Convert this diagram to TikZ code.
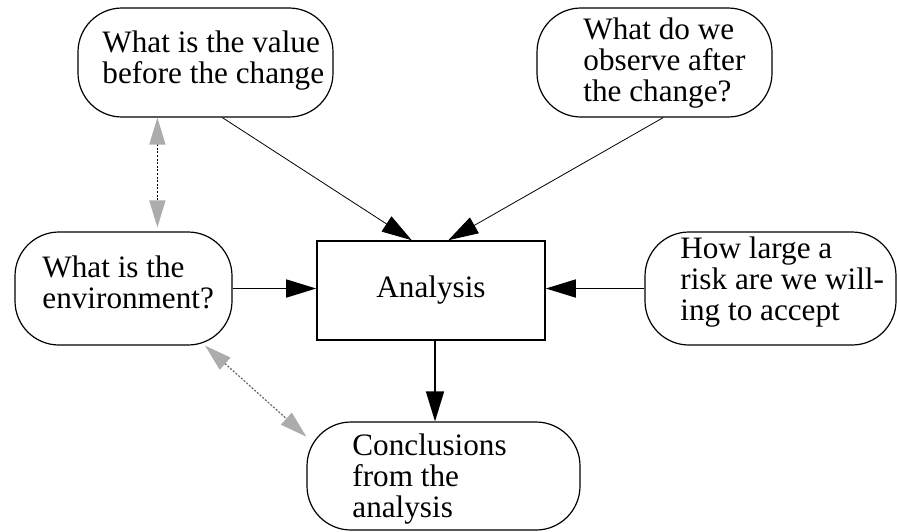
\documentclass[tikz,border=0pt]{standalone}
\usepackage{fontspec}
\setmainfont{Liberation Serif}
\usetikzlibrary{arrows.meta}

\begin{document}
\begin{tikzpicture}[x=0.5pt, y=-0.5pt,
    bubble/.style={draw, rounded corners=22pt, line width=0.6pt},
    txt/.style={align=left, anchor=base west, inner sep=0pt, font=\fontsize{15.6}{15.5}\selectfont},
    flow/.style={-{Triangle[length=15pt, width=9pt]}},
    link/.style={dash pattern=on 1pt off 0.8pt,
      {Triangle[length=13.5pt, width=8pt, color=gray!65]}-{Triangle[length=13.5pt, width=8pt, color=gray!65]}}]
  \useasboundingbox (0,0) rectangle (897,531);
  % Questions (text placed by the baseline of its last line)
  \node[bubble, minimum width=127.5pt, minimum height=54.5pt] (before) at (205.5,62.5) {};
  \node[txt] (before text) at (102,83) {What is the value\\before the change};
  \node[bubble, minimum width=117.5pt, minimum height=54.5pt] (after) at (654.5,62.5) {};
  \node[txt] (after text) at (583,101) {What do we\\observe after\\the change?};
  \node[bubble, minimum width=108.5pt, minimum height=56.5pt] (env) at (123.5,288.5) {};
  \node[txt] (env text) at (42,308) {What is the\\environment?};
  \node[bubble, minimum width=125.5pt, minimum height=56.5pt] (risk) at (770.5,288.5) {};
  \node[txt] (risk text) at (680,320) {How large a\\risk are we will-\\ing to accept};
  % Analysis
  \node[draw, line width=0.8pt, minimum width=114pt, minimum height=49.5pt,
    font=\fontsize{15.6}{15.5}\selectfont] (analysis) at (431,290.5) {Analysis};
  % Result
  \node[bubble, minimum width=136.5pt, minimum height=54pt] (concl) at (443.5,476) {};
  \node[txt] (concl text) at (352,517) {Conclusions\\from the\\analysis};
  % Arrows
  \draw[flow, line width=0.4pt] (before.-73) -- (analysis.111);
  \draw[flow, line width=0.4pt] (after.-81) -- (analysis.71);
  \draw[flow, line width=0.8pt] (env.east) -- (env.east -| analysis.west);
  \draw[flow, line width=0.8pt] (risk.west) -- (risk.west -| analysis.east);
  \draw[flow, line width=0.8pt] ([xshift=2pt]analysis.south) -- ([xshift=2pt]analysis.south |- concl.north);
  % Dotted links
  \draw[link, line width=0.8pt, black] ([xshift=40pt]before.south west) -- ([xshift=71.5pt, yshift=2pt]env.north west);
  \draw[link, line width=0.6pt, black!60] (env.-35) -- (concl.164);
\end{tikzpicture}
\end{document}
